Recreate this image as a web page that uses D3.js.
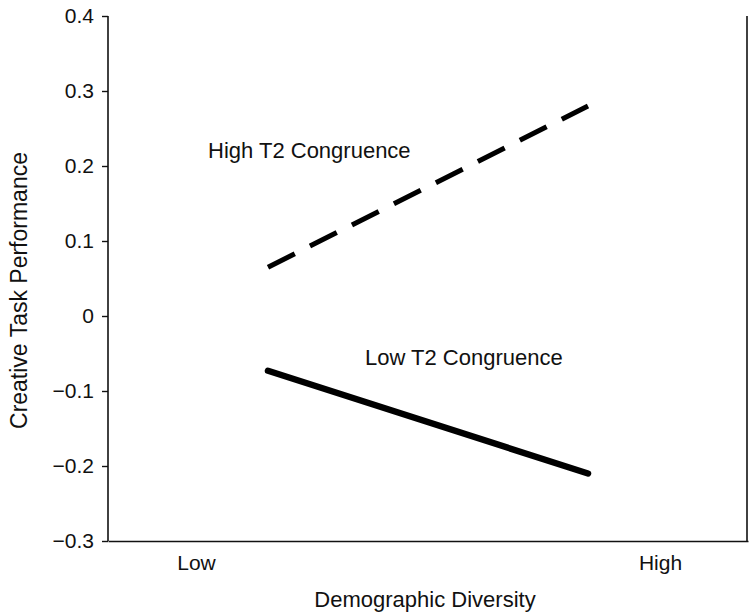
<!DOCTYPE html>
<html><head><meta charset="utf-8">
<script src="https://cdn.jsdelivr.net/npm/d3@7/dist/d3.min.js"></script>
<style>body{margin:0;background:#fff}svg{display:block}text{font-family:"Liberation Sans",Arial,sans-serif;fill:#111}</style>
</head><body><svg id="c" width="750" height="615"></svg>
<script>
// ---- data ----
const yTicks = [-0.3, -0.2, -0.1, 0, 0.1, 0.2, 0.3, 0.4];
const xCategoryLabels = ["Low", "High"];
const xCategoryPos = [-1.45, 1.45];
const lineX = [-1, 1];
const highCongruence = [0.065, 0.28];
const lowCongruence = [-0.073, -0.21];
const seriesNames = ["High T2 Congruence", "Low T2 Congruence"];
const seriesLabelPos = [[-1.375, 0.211], [-0.394, -0.065]];
const xTitle = "Demographic Diversity";
const yTitle = "Creative Task Performance";

// ---- layout ----
const W = 750, H = 615;
const m = {left: 108, right: 2, top: 16, bottom: 74};
const svg = d3.select("#c");
const x = d3.scaleLinear().domain([-2, 2]).range([m.left, W - m.right]);
const y = d3.scaleLinear().domain([-0.3, 0.4]).range([H - m.bottom, m.top]);

const fmt = d => d === 0 ? "0" : (d < 0 ? "\u2212" + d3.format(".1f")(-d) : d3.format(".1f")(d));

const yAxis = svg.append("g").attr("transform", `translate(${m.left},0)`)
  .call(d3.axisLeft(y).tickValues(yTicks).tickFormat(fmt).tickSize(6).tickPadding(8));
yAxis.select(".domain").attr("stroke", "#111").attr("stroke-width", 1.6).attr("d", `M0,${m.top}V${H - m.bottom}`);
yAxis.selectAll(".tick line").attr("stroke", "#111").attr("stroke-width", 1.4);
yAxis.selectAll(".tick text").style("font-size", "21px").attr("fill", "#111");

const xAxis = svg.append("g").attr("transform", `translate(0,${H - m.bottom})`)
  .call(d3.axisBottom(x).tickValues(xCategoryPos).tickFormat((d, i) => xCategoryLabels[i]).tickSize(0).tickPadding(14));
xAxis.select(".domain").attr("stroke", "#111").attr("stroke-width", 1.6);
xAxis.selectAll(".tick text").style("font-size", "21px").attr("fill", "#111");

// right border
svg.append("line").attr("x1", x(2) - 1).attr("x2", x(2) - 1).attr("y1", y(0.4)).attr("y2", y(-0.3))
  .attr("stroke", "#111").attr("stroke-width", 1.6);

const line = d3.line().x((d, i) => x(lineX[i])).y(d => y(d));
svg.append("path").datum(highCongruence).attr("d", line).attr("fill", "none")
  .attr("stroke", "#000").attr("stroke-width", 5).attr("stroke-dasharray", "30,17");
svg.append("path").datum(lowCongruence).attr("d", line).attr("fill", "none")
  .attr("stroke", "#000").attr("stroke-width", 6.5).attr("stroke-linecap", "round");

seriesNames.forEach((n, i) => {
  svg.append("text").attr("x", x(seriesLabelPos[i][0])).attr("y", y(seriesLabelPos[i][1]))
    .style("font-size", "22px").text(n);
});

svg.append("text").attr("x", 425).attr("y", 607).attr("text-anchor", "middle")
  .style("font-size", "22px").text(xTitle);
svg.append("text").attr("transform", `translate(27,${(y(-0.3) + y(0.4)) / 2 + 12}) rotate(-90)`)
  .attr("text-anchor", "middle").style("font-size", "23px").text(yTitle);
</script></body></html>
